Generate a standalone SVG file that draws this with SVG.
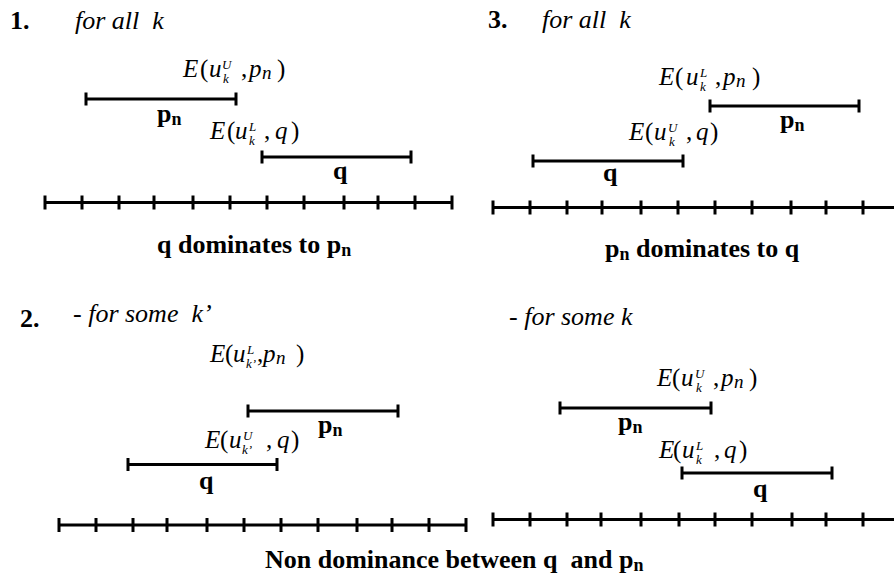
<svg xmlns="http://www.w3.org/2000/svg" width="894" height="576" viewBox="0 0 894 576">
<style>
text{font-family:"Liberation Serif","Times New Roman",serif;fill:#000;white-space:pre}
.e{font-size:25px}
.i{font-style:italic}
.ss{font-size:13px;font-style:italic}
.sn{font-size:19px;font-style:italic}
.b{font-weight:bold;font-size:26px}
.bn{font-size:18px}
.it{font-style:italic;font-size:26px}
.ln{stroke:#000;stroke-width:3;fill:none}
</style>
<rect width="894" height="576" fill="#fff"/>

<!-- Panel 1 -->
<g id="panel1-title">
<text class="b" x="10" y="29">1.</text>
<text class="it" x="75" y="29">for all  k</text>
</g>
<g id="p1-pn">
<path class="ln" d="M86 99H236M86 92.5V105.5M236 92.5V105.5"/>
<text class="e"><tspan class="i" x="183" y="77">E</tspan><tspan x="200" y="77">(</tspan><tspan class="i" x="209" y="77">u</tspan><tspan class="ss" x="222" y="69">U</tspan><tspan class="ss" x="223" y="83">k</tspan><tspan x="241" y="77">,</tspan><tspan class="i" x="249" y="77">p</tspan><tspan class="sn" x="262" y="79">n</tspan><tspan x="277" y="77">)</tspan></text>
<text class="b" x="157" y="122">p<tspan class="bn" dy="3">n</tspan></text>
</g>
<g id="p1-q">
<path class="ln" d="M262 157H411M262 150.5V163.5M411 150.5V163.5"/>
<text class="e"><tspan class="i" x="210" y="139">E</tspan><tspan x="227" y="139">(</tspan><tspan class="i" x="235" y="139">u</tspan><tspan class="ss" x="249" y="131">L</tspan><tspan class="ss" x="249" y="145">k</tspan><tspan x="264" y="139">,</tspan><tspan class="i" x="275" y="139">q</tspan><tspan x="291" y="139">)</tspan></text>
<text class="b" x="333" y="179">q</text>
</g>
<g id="p1-axis">
<path class="ln" d="M45 202.5H452M45 195.5V209.5M82 195.5V209.5M119 195.5V209.5M154 195.5V209.5M193 195.5V209.5M230 195.5V209.5M267 195.5V209.5M304 195.5V209.5M344 195.5V209.5M378 195.5V209.5M415 195.5V209.5M452 195.5V209.5"/>
<text class="b" x="157" y="253">q dominates to p<tspan class="bn" dy="3">n</tspan></text>
</g>

<!-- Panel 3 -->
<g id="panel3-title">
<text class="b" x="488" y="28">3.</text>
<text class="it" x="542" y="28">for all  k</text>
</g>
<g id="p3-pn">
<path class="ln" d="M710 106H859M710 99.5V112.5M859 99.5V112.5"/>
<text class="e"><tspan class="i" x="659" y="85">E</tspan><tspan x="675" y="85">(</tspan><tspan class="i" x="686" y="85">u</tspan><tspan class="ss" x="700" y="77">L</tspan><tspan class="ss" x="700" y="91">k</tspan><tspan x="715" y="85">,</tspan><tspan class="i" x="723" y="85">p</tspan><tspan class="sn" x="736" y="87">n</tspan><tspan x="752" y="85">)</tspan></text>
<text class="b" x="780" y="128">p<tspan class="bn" dy="3">n</tspan></text>
</g>
<g id="p3-q">
<path class="ln" d="M533 161H683M533 154.5V167.5M683 154.5V167.5"/>
<text class="e"><tspan class="i" x="629" y="140">E</tspan><tspan x="645" y="140">(</tspan><tspan class="i" x="654" y="140">u</tspan><tspan class="ss" x="668" y="132">U</tspan><tspan class="ss" x="669" y="146">k</tspan><tspan x="686" y="140">,</tspan><tspan class="i" x="696" y="140">q</tspan><tspan x="710" y="140">)</tspan></text>
<text class="b" x="603" y="181">q</text>
</g>
<g id="p3-axis">
<path class="ln" d="M493 207.5H894M493 200.5V214.5M530 200.5V214.5M567 200.5V214.5M602 200.5V214.5M641 200.5V214.5M678 200.5V214.5M715 200.5V214.5M752 200.5V214.5M791 200.5V214.5M826 200.5V214.5M863 200.5V214.5"/>
<text class="b" x="605" y="257">p<tspan class="bn" dy="3">n</tspan><tspan dy="-3"> dominates to q</tspan></text>
</g>

<!-- Panel 2 -->
<g id="panel2-title">
<text class="b" x="20" y="327">2.</text>
<text class="it" x="73" y="322">- for some  k’</text>
</g>
<g id="p2-pn">
<path class="ln" d="M248 411H398M248 404.5V417.5M398 404.5V417.5"/>
<text class="e"><tspan class="i" x="210" y="362">E</tspan><tspan x="225" y="362">(</tspan><tspan class="i" x="233" y="362">u</tspan><tspan class="ss" x="247" y="354">L</tspan><tspan class="ss" x="246" y="368">k’</tspan><tspan x="257" y="362">,</tspan><tspan class="i" x="263" y="362">p</tspan><tspan class="sn" x="276" y="364">n</tspan><tspan x="296" y="362">)</tspan></text>
<text class="b" x="318" y="433">p<tspan class="bn" dy="3">n</tspan></text>
</g>
<g id="p2-q">
<path class="ln" d="M128 464.5H277M128 458V471M277 458V471"/>
<text class="e"><tspan class="i" x="205" y="448">E</tspan><tspan x="220" y="448">(</tspan><tspan class="i" x="229" y="448">u</tspan><tspan class="ss" x="243" y="440">U</tspan><tspan class="ss" x="242" y="454">k’</tspan><tspan x="266" y="448">,</tspan><tspan class="i" x="277" y="448">q</tspan><tspan x="291" y="448">)</tspan></text>
<text class="b" x="199" y="489">q</text>
</g>
<g id="p2-axis">
<path class="ln" d="M59 525H466M59 518V532M96 518V532M133 518V532M167 518V532M207 518V532M244 518V532M281 518V532M318 518V532M357 518V532M392 518V532M429 518V532M466 518V532"/>
</g>

<!-- Panel 4 -->
<g id="panel4-title">
<text class="it" x="509" y="325">- for some k</text>
</g>
<g id="p4-pn">
<path class="ln" d="M560 408H711M560 401.5V414.5M711 401.5V414.5"/>
<text class="e"><tspan class="i" x="657" y="386">E</tspan><tspan x="672" y="386">(</tspan><tspan class="i" x="681" y="386">u</tspan><tspan class="ss" x="695" y="378">U</tspan><tspan class="ss" x="696" y="392">k</tspan><tspan x="713" y="386">,</tspan><tspan class="i" x="721" y="386">p</tspan><tspan class="sn" x="734" y="388">n</tspan><tspan x="749" y="386">)</tspan></text>
<text class="b" x="618" y="430">p<tspan class="bn" dy="3">n</tspan></text>
</g>
<g id="p4-q">
<path class="ln" d="M682 473H832M682 466.5V479.5M832 466.5V479.5"/>
<text class="e"><tspan class="i" x="659" y="458">E</tspan><tspan x="673" y="458">(</tspan><tspan class="i" x="682" y="458">u</tspan><tspan class="ss" x="696" y="450">L</tspan><tspan class="ss" x="696" y="464">k</tspan><tspan x="714" y="458">,</tspan><tspan class="i" x="724" y="458">q</tspan><tspan x="739" y="458">)</tspan></text>
<text class="b" x="753" y="497">q</text>
</g>
<g id="p4-axis">
<path class="ln" d="M493 519.5H894M493 512.5V526.5M530 512.5V526.5M567 512.5V526.5M601 512.5V526.5M641 512.5V526.5M679 512.5V526.5M715 512.5V526.5M752 512.5V526.5M792 512.5V526.5M826 512.5V526.5M863 512.5V526.5"/>
</g>

<g id="caption-bottom">
<text class="b" x="265" y="568">Non dominance between q  and p<tspan class="bn" dy="3">n</tspan></text>
</g>
<g id="connectors"></g>
</svg>
